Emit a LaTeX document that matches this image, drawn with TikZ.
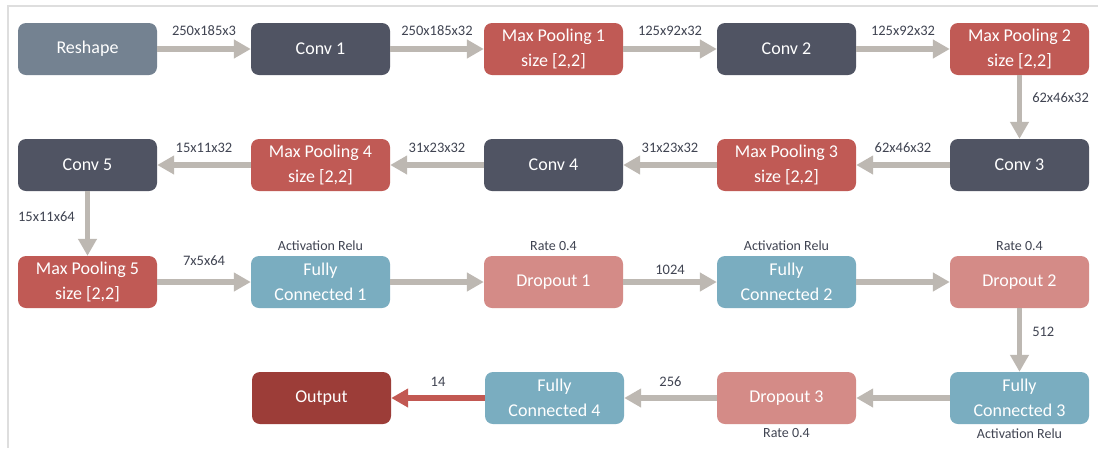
\documentclass[tikz,border=0pt]{standalone}
\usepackage{fontspec}
\setmainfont{Carlito}
\usetikzlibrary{arrows.meta,positioning}

\definecolor{reshapecol}{RGB}{116,130,145}
\definecolor{convcol}{RGB}{80,84,99}
\definecolor{poolcol}{RGB}{192,90,85}
\definecolor{fccol}{RGB}{122,173,192}
\definecolor{dropcol}{RGB}{212,139,135}
\definecolor{outcol}{RGB}{156,61,56}
\definecolor{flowcol}{RGB}{189,184,178}
\definecolor{outflowcol}{RGB}{194,88,82}
\definecolor{labelcol}{RGB}{64,68,82}
\definecolor{framecol}{RGB}{222,222,222}

\tikzset{
  layer/.style={rounded corners=8pt, minimum width=139pt, minimum height=52pt,
    inner sep=0pt, text=white, align=center, font=\fontsize{18}{25}\selectfont},
  flow/.style={draw=flowcol, line width=5.5pt, -{Triangle[length=17pt,width=18pt]}},
  dims/.style={text=labelcol, inner sep=1pt, font=\fontsize{14.5}{16}\selectfont},
  note/.style={text=labelcol, inner sep=1pt, font=\fontsize{14}{16}\selectfont},
}

\begin{document}
\begin{tikzpicture}[x=1pt,y=-1pt]
  \fill[white] (0,0) rectangle (1098,448);
  \useasboundingbox (0,0) rectangle (1098,448);
  \draw[framecol,line width=2pt] (1098,6) -- (8,6) -- (8,448);
  % row 1: convolution part
  \node[layer,fill=reshapecol] (reshape) at (87.5,49)  {Reshape};
  \node[layer,fill=convcol]    (conv1)   at (320.5,49) {Conv 1};
  \node[layer,fill=poolcol]    (pool1)   at (553.5,49) {Max Pooling 1\\size [2,2]};
  \node[layer,fill=convcol]    (conv2)   at (786.5,49) {Conv 2};
  \node[layer,fill=poolcol]    (pool2)   at (1019.5,49) {Max Pooling 2\\size [2,2]};
  % row 2 runs right to left
  \node[layer,fill=convcol]    (conv3)   at (1019.5,165) {Conv 3};
  \node[layer,fill=poolcol]    (pool3)   at (786.5,165)  {Max Pooling 3\\size [2,2]};
  \node[layer,fill=convcol]    (conv4)   at (553.5,165)  {Conv 4};
  \node[layer,fill=poolcol]    (pool4)   at (320.5,165)  {Max Pooling 4\\size [2,2]};
  \node[layer,fill=convcol]    (conv5)   at (87.5,165)   {Conv 5};
  % row 3: dense part
  \node[layer,fill=poolcol]    (pool5)   at (87.5,282)   {Max Pooling 5\\size [2,2]};
  \node[layer,fill=fccol]      (fc1)     at (320.5,282)  {Fully\\Connected 1};
  \node[layer,fill=dropcol]    (drop1)   at (553.5,282)  {Dropout 1};
  \node[layer,fill=fccol]      (fc2)     at (786.5,282)  {Fully\\Connected 2};
  \node[layer,fill=dropcol]    (drop2)   at (1019.5,282) {Dropout 2};
  % row 4 back to the output
  \node[layer,fill=fccol]      (fc3)     at (1019.5,398) {Fully\\Connected 3};
  \node[layer,fill=dropcol]    (drop3)   at (786.5,398)  {Dropout 3};
  \node[layer,fill=fccol]      (fc4)     at (554.5,398)  {Fully\\Connected 4};
  \node[layer,fill=outcol]     (output)  at (321.5,398)  {Output};
  % layer notes
  \node[note,above=4pt of fc1]   (fc1note)   {Activation Relu};
  \node[note,above=4pt of drop1] (drop1note) {Rate 0.4};
  \node[note,above=4pt of fc2]   (fc2note)   {Activation Relu};
  \node[note,above=4pt of drop2] (drop2note) {Rate 0.4};
  \node[note,below=3pt of drop3] (drop3note) {Rate 0.4};
  \node[note,below=3pt of fc3]   (fc3note)   {Activation Relu};
  % data flow with tensor sizes
  \draw[flow] (reshape) -- (conv1) node[dims,midway,yshift=18pt] {250x185x3};
  \draw[flow] (conv1) -- (pool1) node[dims,midway,yshift=18pt] {250x185x32};
  \draw[flow] (pool1) -- (conv2) node[dims,midway,yshift=18pt] {125x92x32};
  \draw[flow] (conv2) -- (pool2) node[dims,midway,yshift=18pt] {125x92x32};
  \draw[flow] (pool2) -- (conv3) node[dims,pos=0.35,right=9pt] {62x46x32};
  \draw[flow] (conv3) -- (pool3) node[dims,midway,yshift=17pt] {62x46x32};
  \draw[flow] (pool3) -- (conv4) node[dims,midway,yshift=17pt] {31x23x32};
  \draw[flow] (conv4) -- (pool4) node[dims,midway,yshift=17pt] {31x23x32};
  \draw[flow] (pool4) -- (conv5) node[dims,midway,yshift=17pt] {15x11x32};
  \draw[flow] (conv5) -- (pool5) node[dims,pos=0.4,left=9pt] {15x11x64};
  \draw[flow] (pool5) -- (fc1) node[dims,midway,yshift=21pt] {7x5x64};
  \draw[flow] (fc1) -- (drop1);
  \draw[flow] (drop1) -- (fc2) node[dims,midway,yshift=12pt] {1024};
  \draw[flow] (fc2) -- (drop2);
  \draw[flow] (drop2) -- (fc3) node[dims,pos=0.375,right=9pt] {512};
  \draw[flow] (fc3) -- (drop3);
  \draw[flow] (drop3) -- (fc4) node[dims,midway,yshift=16pt] {256};
  \draw[flow,draw=outflowcol] (fc4) -- (output) node[dims,midway,yshift=16pt] {14};
\end{tikzpicture}
\end{document}
